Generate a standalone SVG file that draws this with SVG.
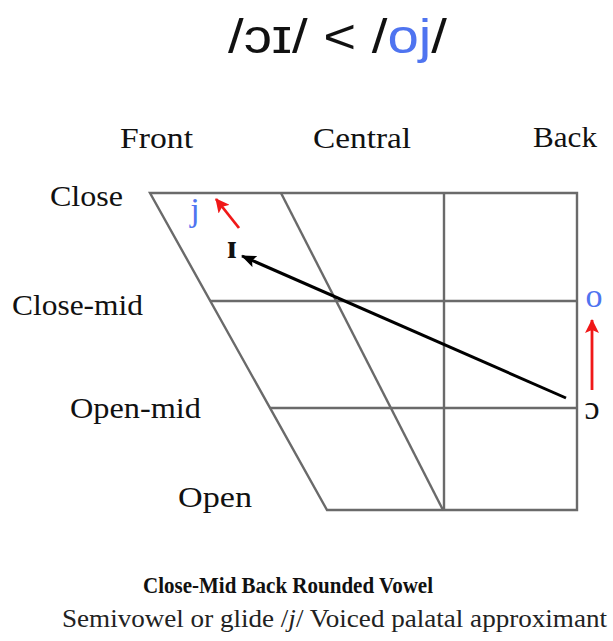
<svg xmlns="http://www.w3.org/2000/svg" width="613" height="641" viewBox="0 0 613 641">
<style>
.grid{stroke:#6a6a6a;stroke-width:2.4;fill:none}
.lbl{font-family:"Liberation Serif",serif;font-size:29px;fill:#111}
.sym{font-family:"Liberation Serif",serif;font-size:34px}
</style>
<defs>
<marker id="ab" markerWidth="16" markerHeight="12" refX="14" refY="6" orient="auto" markerUnits="userSpaceOnUse" viewBox="0 0 16 12"><path d="M0,0 L15,6 L0,12 L3,6 z" fill="#000"/></marker>
<marker id="ar" markerWidth="14" markerHeight="14" refX="13" refY="7" orient="auto" markerUnits="userSpaceOnUse" viewBox="0 0 14 14"><path d="M0,0 L14,7 L0,14 L3,7 z" fill="#f01818"/></marker>
</defs>
<rect width="613" height="641" fill="#fff"/>
<g id="title"><text x="228" y="53" font-family="Liberation Sans,sans-serif" font-size="49" fill="#111" textLength="219" lengthAdjust="spacingAndGlyphs">/ɔɪ/ &lt; /<tspan fill="#4f74f0">oj</tspan>/</text></g>
<g id="chart">
<path class="grid" d="M150,193 L577,193 L577,510 L327,510 Z"/>
<path class="grid" d="M281,193 L443,510"/>
<path class="grid" d="M444,193 L444,510"/>
<path class="grid" d="M210,301 L577,301"/>
<path class="grid" d="M270,408 L577,408"/>
</g>
<g id="labels">
<text class="lbl" x="120" y="148" textLength="73" lengthAdjust="spacingAndGlyphs">Front</text>
<text class="lbl" x="313" y="148" textLength="98" lengthAdjust="spacingAndGlyphs">Central</text>
<text class="lbl" x="533" y="147" textLength="64" lengthAdjust="spacingAndGlyphs">Back</text>
<text class="lbl" x="50" y="206" textLength="73" lengthAdjust="spacingAndGlyphs">Close</text>
<text class="lbl" x="12" y="315" textLength="131" lengthAdjust="spacingAndGlyphs">Close-mid</text>
<text class="lbl" x="70" y="418" textLength="131" lengthAdjust="spacingAndGlyphs">Open-mid</text>
<text class="lbl" x="178" y="507" textLength="74" lengthAdjust="spacingAndGlyphs">Open</text>
</g>
<g id="node-j"><text class="sym" x="195" y="221" text-anchor="middle" fill="#4f74f0">j</text></g>
<g id="node-I"><text class="sym" x="232" y="258" text-anchor="middle" font-size="46" font-weight="bold" fill="#111">ɪ</text></g>
<g id="node-o"><text class="sym" x="594" y="307" text-anchor="middle" fill="#4f74f0">o</text></g>
<g id="node-c"><text class="sym" x="592" y="419" text-anchor="middle" font-size="38" fill="#111">ɔ</text></g>
<g id="connectors">
<line x1="566" y1="398" x2="242" y2="256" stroke="#000" stroke-width="3" marker-end="url(#ab)"/>
<line x1="239" y1="228" x2="216" y2="199" stroke="#f01818" stroke-width="2.8" marker-end="url(#ar)"/>
<line x1="592" y1="390" x2="592" y2="320" stroke="#f01818" stroke-width="2.8" marker-end="url(#ar)"/>
</g>
<g id="caption">
<text x="143" y="593" font-family="Liberation Serif,serif" font-size="23" font-weight="bold" fill="#111" textLength="290" lengthAdjust="spacingAndGlyphs">Close-Mid Back Rounded Vowel</text>
<text x="62" y="627" font-family="Liberation Serif,serif" font-size="26" fill="#222" textLength="545" lengthAdjust="spacingAndGlyphs">Semivowel or glide /<tspan font-style="italic">j</tspan>/ Voiced palatal approximant</text>
</g>
</svg>
